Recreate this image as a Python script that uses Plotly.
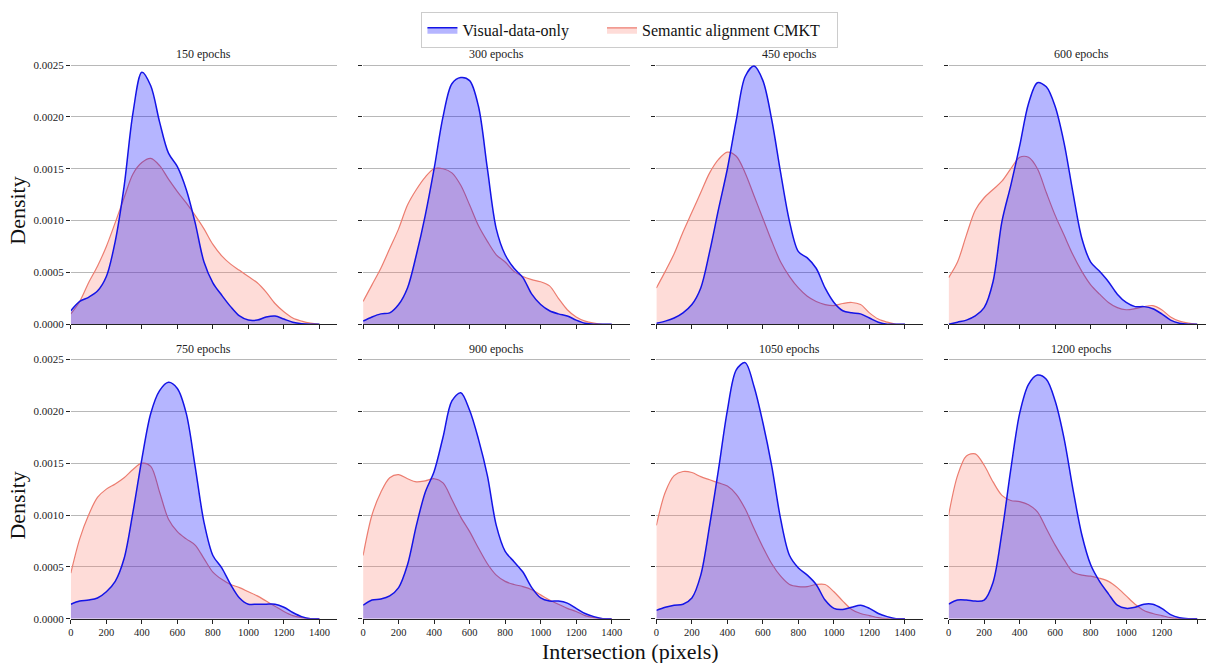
import plotly.graph_objects as go

W, H = 1206, 663

titles = ["150 epochs", "300 epochs", "450 epochs", "600 epochs",
          "750 epochs", "900 epochs", "1050 epochs", "1200 epochs"]

x_grid = [0, 50, 100, 150, 200, 250, 300, 350, 400, 450, 500, 550, 600, 650, 700,
          750, 800, 850, 900, 950, 1000, 1050, 1100, 1150, 1200, 1250, 1300, 1350, 1400]

visual_150 = [0.00013, 0.00022, 0.00026, 0.00032, 0.00046, 0.00080, 0.00133, 0.00204, 0.00243, 0.00230,
              0.00195, 0.00165, 0.00152, 0.00130, 0.00098, 0.00060, 0.00040, 0.00028, 0.00017, 0.00008,
              0.00004, 0.00004, 0.00007, 0.00008, 0.00005, 0.00002, 0.000005, 0.0, 0.0]
cmkt_150 = [0.00010, 0.00022, 0.00040, 0.00056, 0.00075, 0.00098, 0.00122, 0.00145, 0.00156, 0.00160,
            0.00153, 0.00140, 0.00128, 0.00117, 0.00105, 0.00092, 0.00077, 0.00066, 0.00058, 0.00052,
            0.00046, 0.00040, 0.00031, 0.00020, 0.00012, 0.00006, 0.00003, 0.00001, 0.0]

visual_300 = [0.00003, 0.00007, 0.00010, 0.00011, 0.00019, 0.00035, 0.00067, 0.00105, 0.00150, 0.00200,
              0.00232, 0.00238, 0.00235, 0.00210, 0.00150, 0.00092, 0.00067, 0.00054, 0.00045, 0.00029,
              0.00019, 0.00013, 0.00010, 0.00008, 0.00004, 0.00001, 0.0, 0.0, 0.0]
cmkt_300 = [0.00022, 0.00038, 0.00054, 0.00073, 0.00092, 0.00115, 0.00130, 0.00142, 0.00150, 0.00150,
            0.00146, 0.00134, 0.00115, 0.00095, 0.00080, 0.00067, 0.00060, 0.00051, 0.00046, 0.00043,
            0.00041, 0.00037, 0.00025, 0.00014, 0.00007, 0.00003, 0.00001, 0.0, 0.0]

visual_450 = [0.00001, 0.00003, 0.00006, 0.00011, 0.00019, 0.00035, 0.00070, 0.00111, 0.00150, 0.00197,
              0.00239, 0.00249, 0.00235, 0.00197, 0.00146, 0.00099, 0.00070, 0.00064, 0.00054, 0.00035,
              0.00021, 0.00013, 0.00011, 0.00010, 0.00006, 0.00002, 0.0, 0.0, 0.0]
cmkt_450 = [0.00035, 0.00051, 0.00068, 0.00089, 0.00108, 0.00127, 0.00146, 0.00159, 0.00166, 0.00162,
            0.00146, 0.00124, 0.00102, 0.00080, 0.00060, 0.00046, 0.00035, 0.00027, 0.00022, 0.00019,
            0.00018, 0.00020, 0.00021, 0.00019, 0.00011, 0.00005, 0.00002, 0.0, 0.0]

visual_600 = [0.0, 0.00002, 0.00004, 0.00008, 0.00016, 0.00041, 0.00099, 0.00134, 0.00172, 0.00213,
              0.00233, 0.00229, 0.00210, 0.00175, 0.00127, 0.00083, 0.00060, 0.00051, 0.00041, 0.00029,
              0.00021, 0.00017, 0.00017, 0.00015, 0.00010, 0.00004, 0.00001, 0.0, 0.0]
cmkt_600 = [0.00045, 0.00060, 0.00086, 0.00110, 0.00122, 0.00130, 0.00138, 0.00150, 0.00161, 0.00161,
            0.00150, 0.00127, 0.00105, 0.00086, 0.00067, 0.00051, 0.00038, 0.00029, 0.00021, 0.00016,
            0.00014, 0.00015, 0.00017, 0.00018, 0.00014, 0.00007, 0.00003, 0.00001, 0.0]

visual_750 = [0.00014, 0.00017, 0.00018, 0.00020, 0.00026, 0.00036, 0.00058, 0.00103, 0.00154, 0.00198,
              0.00220, 0.00228, 0.00222, 0.00198, 0.00147, 0.00093, 0.00061, 0.00049, 0.00033, 0.00020,
              0.00014, 0.00014, 0.00014, 0.00014, 0.00011, 0.00006, 0.00002, 0.0, 0.0]
cmkt_750 = [0.00044, 0.00077, 0.00100, 0.00117, 0.00125, 0.00130, 0.00136, 0.00144, 0.00150, 0.00147,
            0.00122, 0.00096, 0.00084, 0.00077, 0.00071, 0.00058, 0.00045, 0.00038, 0.00033, 0.00030,
            0.00026, 0.00022, 0.00017, 0.00012, 0.00007, 0.00003, 0.00001, 0.0, 0.0]

visual_900 = [0.00013, 0.00018, 0.00019, 0.00022, 0.00030, 0.00052, 0.00090, 0.00122, 0.00142, 0.00175,
              0.00210, 0.00218, 0.00201, 0.00173, 0.00138, 0.00090, 0.00065, 0.00055, 0.00045, 0.00030,
              0.00020, 0.00017, 0.00017, 0.00015, 0.00010, 0.00005, 0.00002, 0.0, 0.0]
cmkt_900 = [0.00061, 0.00100, 0.00122, 0.00136, 0.00139, 0.00135, 0.00132, 0.00133, 0.00135, 0.00131,
            0.00115, 0.00098, 0.00084, 0.00068, 0.00053, 0.00042, 0.00036, 0.00033, 0.00031, 0.00028,
            0.00023, 0.00018, 0.00014, 0.00010, 0.00007, 0.00003, 0.00001, 0.0, 0.0]

visual_1050 = [0.00008, 0.00011, 0.00013, 0.00014, 0.00020, 0.00042, 0.00090, 0.00144, 0.00201, 0.00240,
               0.00247, 0.00224, 0.00189, 0.00147, 0.00096, 0.00061, 0.00049, 0.00042, 0.00033, 0.00018,
               0.00010, 0.00009, 0.00011, 0.00013, 0.00010, 0.00005, 0.00002, 0.0, 0.0]
cmkt_1050 = [0.00090, 0.00122, 0.00138, 0.00142, 0.00141, 0.00137, 0.00134, 0.00131, 0.00128, 0.00120,
             0.00106, 0.00087, 0.00069, 0.00053, 0.00041, 0.00033, 0.00031, 0.00031, 0.00033, 0.00033,
             0.00026, 0.00017, 0.00009, 0.00005, 0.00003, 0.00001, 0.0, 0.0, 0.0]

visual_1200 = [0.00014, 0.00018, 0.00018, 0.00017, 0.00018, 0.00035, 0.00083, 0.00144, 0.00198, 0.00226,
               0.00235, 0.00231, 0.00210, 0.00174, 0.00125, 0.00081, 0.00052, 0.00036, 0.00024, 0.00013,
               0.00010, 0.00011, 0.00014, 0.00014, 0.00010, 0.00004, 0.00001, 0.0, 0.0]
cmkt_1200 = [0.00100, 0.00138, 0.00157, 0.00159, 0.00148, 0.00132, 0.00119, 0.00114, 0.00113, 0.00110,
             0.00103, 0.00087, 0.00071, 0.00057, 0.00045, 0.00042, 0.00041, 0.00039, 0.00036, 0.00030,
             0.00022, 0.00014, 0.00008, 0.00005, 0.00003, 0.00001, 0.0, 0.0, 0.0]

visual_series = [visual_150, visual_300, visual_450, visual_600,
                 visual_750, visual_900, visual_1050, visual_1200]
cmkt_series = [cmkt_150, cmkt_300, cmkt_450, cmkt_600,
               cmkt_750, cmkt_900, cmkt_1050, cmkt_1200]

x_ticks = [0, 200, 400, 600, 800, 1000, 1200, 1400]
y_ticks = [0.0, 0.0005, 0.0010, 0.0015, 0.0020, 0.0025]

SERIF = "Liberation Serif"
BLUE_LINE = "#1414e6"
BLUE_FILL = "rgba(0,0,255,0.29)"
RED_LINE = "#ec7d70"
RED_FILL = "rgba(250,128,114,0.28)"
NB = "\u00a0"

# layout geometry (pixels)
col_px = [(68, 335), (361, 629), (655, 922), (948, 1206)]
unit = 267.0 / 1500.0
row_px = [(59.5, 326.7), (357.1, 624.3)]
YMAX = 0.00255

fig = go.Figure()
for i in range(8):
    ax = i + 1
    xa = "x" if ax == 1 else f"x{ax}"
    ya = "y" if ax == 1 else f"y{ax}"
    fig.add_trace(go.Scatter(
        x=x_grid, y=cmkt_series[i], xaxis=xa, yaxis=ya,
        mode="lines", line=dict(color=RED_LINE, width=1.2, shape="spline", smoothing=0.9),
        fill="tozeroy", fillcolor=RED_FILL,
        name="Semantic alignment CMKT" + NB * 3, legendgroup="cmkt", showlegend=(i == 0),
        legendrank=2, hoverinfo="skip"))
    fig.add_trace(go.Scatter(
        x=x_grid, y=visual_series[i], xaxis=xa, yaxis=ya,
        mode="lines", line=dict(color=BLUE_LINE, width=1.5, shape="spline", smoothing=0.9),
        fill="tozeroy", fillcolor=BLUE_FILL,
        name="Visual-data-only" + NB * 7, legendgroup="visual", showlegend=(i == 0),
        legendrank=1, hoverinfo="skip"))

annotations = []
for i in range(8):
    r, c = divmod(i, 4)
    x0, x1 = col_px[c]
    y0, y1 = row_px[r]
    xr = (x1 - x0) / unit
    key = "" if i == 0 else str(i + 1)
    fig.layout["xaxis" + key] = dict(
        domain=[x0 / W, x1 / W], range=[0, xr], anchor="y" + key,
        tickmode="array", tickvals=x_ticks, ticktext=[str(v) for v in x_ticks],
        showticklabels=(r == 1), ticks="outside", ticklen=4, tickwidth=1, tickcolor="#222",
        showline=True, linecolor="#222", linewidth=1.2, showgrid=False, zeroline=False,
        tickfont=dict(family=SERIF, size=10.5, color="#222"),
    )
    fig.layout["yaxis" + key] = dict(
        domain=[1 - y1 / H, 1 - y0 / H], range=[0, YMAX], anchor="x" + key,
        tickmode="array", tickvals=y_ticks, ticktext=[f"{v:.4f}" for v in y_ticks],
        showticklabels=(c == 0), ticks="outside", ticklen=4, tickwidth=1, tickcolor="#222",
        showline=False, showgrid=True, gridcolor="#b8b8b8", gridwidth=1, zeroline=False,
        tickfont=dict(family=SERIF, size=11, color="#222"),
    )
    title_y = 54 if r == 0 else 351.7
    annotations.append(dict(
        text=titles[i], x=(x0 + x1) / 2 / W if c < 3 else 1081.5 / W,
        y=1 - title_y / H,
        xref="paper", yref="paper", xanchor="center", yanchor="middle", showarrow=False,
        font=dict(family=SERIF, size=12, color="#222")))

for yc in (212, 510):
    annotations.append(dict(
        text="Density", x=15 / W, y=1 - yc / H, xref="paper", yref="paper",
        xanchor="center", yanchor="middle", textangle=-90, showarrow=False,
        font=dict(family=SERIF, size=22, color="#111")))
annotations.append(dict(
    text="Intersection (pixels)", x=629 / W, y=1 - 657 / H, xref="paper", yref="paper",
    xanchor="center", yanchor="middle", showarrow=False, borderpad=0,
    font=dict(family=SERIF, size=22, color="#111")))

fig.update_layout(
    width=W, height=H, margin=dict(l=0, r=0, t=0, b=0),
    paper_bgcolor="white", plot_bgcolor="white",
    annotations=annotations,
    legend=dict(orientation="h", x=628.5 / W, xanchor="center", y=1 - 11 / H, yanchor="top",
                font=dict(family=SERIF, size=16, color="#111"),
                bordercolor="#cccccc", borderwidth=1, bgcolor="white",
                itemwidth=30, traceorder="normal"),
)

fig.write_html("out.html", config={"displayModeBar": False},
               post_script="document.body.style.margin='0px';document.body.style.overflow='hidden';")
